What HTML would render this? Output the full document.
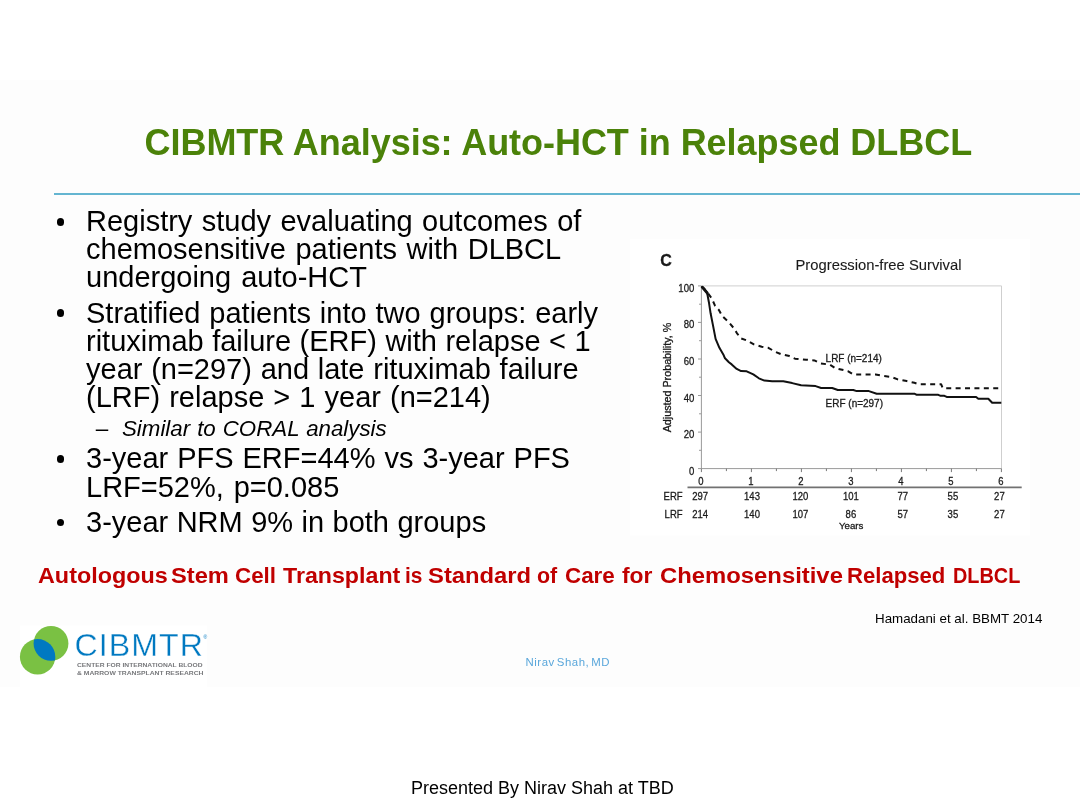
<!DOCTYPE html>
<html lang="en">
<head>
<meta charset="utf-8">
<title>CIBMTR Analysis: Auto-HCT in Relapsed DLBCL</title>
<style>
html,body{margin:0;padding:0;background:#fff;}
body{width:1080px;height:810px;position:relative;overflow:hidden;font-family:"Liberation Sans",sans-serif;color:#000;}
.slide{position:absolute;left:0;top:80px;width:1080px;height:607px;background:#fdfdfd;}
.abs{position:absolute;white-space:nowrap;line-height:1;}
.title{left:144.5px;top:125px;font-size:36px;font-weight:bold;color:#4b8209;letter-spacing:-0.04px;}
.rule{position:absolute;left:54px;top:193px;width:1026px;height:2px;background:#64b5d1;}
.b{font-size:29px;left:86px;word-spacing:1px;}
.dot{position:absolute;left:56.8px;width:7.6px;height:7.6px;border-radius:50%;background:#000;}
.sub{font-size:22.3px;font-style:italic;left:122px;word-spacing:0.8px;}
.dash{font-size:22.5px;left:95.8px;}
.red{position:absolute;left:0;top:565px;font-size:22.5px;font-weight:bold;color:#c00000;line-height:1;white-space:nowrap;}
.red span{position:absolute;top:0;transform-origin:0 0;}
.cite{left:875px;top:612px;font-size:13.35px;}
.name{left:525.5px;top:657px;font-size:11.4px;color:#5aa7db;letter-spacing:0.55px;word-spacing:-1.8px;}
.foot{left:411px;top:779px;font-size:18px;}
</style>
</head>
<body>
<div class="slide"></div>
<div class="abs title">CIBMTR Analysis: Auto-HCT in Relapsed DLBCL</div>
<div class="rule"></div>

<div class="dot" style="top:218.1px"></div>
<div class="abs b" style="top:207px;word-spacing:1.35px">Registry study evaluating outcomes of</div>
<div class="abs b" style="top:235px;word-spacing:1.5px">chemosensitive patients with DLBCL</div>
<div class="abs b" style="top:263px;word-spacing:2px">undergoing auto-HCT</div>
<div class="dot" style="top:309.4px"></div>
<div class="abs b" style="top:299px;word-spacing:0.85px">Stratified patients into two groups: early</div>
<div class="abs b" style="top:327px;word-spacing:0.43px">rituximab failure (ERF) with relapse &lt; 1</div>
<div class="abs b" style="top:355px;word-spacing:0.67px">year (n=297) and late rituximab failure</div>
<div class="abs b" style="top:383px;word-spacing:1px">(LRF) relapse &gt; 1 year (n=214)</div>
<div class="abs dash" style="top:418px">–</div>
<div class="abs sub" style="top:418px">Similar to CORAL analysis</div>
<div class="dot" style="top:455.0px"></div>
<div class="abs b" style="top:444px;word-spacing:0.9px">3-year PFS ERF=44% vs 3-year PFS</div>
<div class="abs b" style="top:473px;word-spacing:1.8px">LRF=52%, p=0.085</div>
<div class="dot" style="top:518.7px"></div>
<div class="abs b" style="top:508px;word-spacing:0.4px">3-year NRM 9% in both groups</div>

<svg class="chart" width="401" height="298" viewBox="630 238 401 298" style="position:absolute;left:630px;top:238px;overflow:visible;filter:blur(0.35px)">
<rect x="630.3" y="239" width="400" height="296.5" fill="#ffffff"/>
<path d="M701.4 285.9 H1001.5 V468.6" fill="none" stroke="#cfcfcf" stroke-width="1"/>
<path d="M701.4 285.9 V468.6 H1001.5" fill="none" stroke="#9a9a9a" stroke-width="1"/>
<path d="M698 468.6H701.4 M699 450.3H701.4 M698 432.1H701.4 M699 413.8H701.4 M698 395.5H701.4 M699 377.2H701.4 M698 359.0H701.4 M699 340.7H701.4 M698 322.4H701.4 M699 304.2H701.4 M698 285.9H701.4" stroke="#9a9a9a" stroke-width="1" fill="none"/>
<path d="M701.4 468.6v3.5 M726.4 468.6v2.5 M751.4 468.6v3.5 M776.4 468.6v2.5 M801.4 468.6v3.5 M826.4 468.6v2.5 M851.4 468.6v3.5 M876.4 468.6v2.5 M901.4 468.6v3.5 M926.4 468.6v2.5 M951.4 468.6v3.5 M976.4 468.6v2.5 M1001.4 468.6v3.5" stroke="#777" stroke-width="1" fill="none"/>
<path d="M687.5 487.4H1021.7" stroke="#727272" stroke-width="1.6" fill="none"/>
<path d="M701.9 286.6 L707.2 292.2 L711.7 298.3 L715 305.6 L718.9 310 L722.2 316.1 L728.3 321.7 L733.9 328.3 L736.7 332.8 L740.6 338.3 L747.2 340.6 L753.9 344.4 L761.7 346.7 L768.3 347.8 L775 351.7 L781.7 354.4 L789.4 356.1 L795 358.7 L806.1 359.7 L814.4 360.4 L820 363.3 L830 364.7 L835.6 368.3 L847.8 371.1 L853.3 374.4 L875.6 374.4 L882.2 375.8 L891.1 376.9 L897.8 379.4 L906.7 381.1 L914.4 382.8 L918.9 384.2 L941.1 384.2 L942.8 388.3 L1001.3 388.3" fill="none" stroke="#111" stroke-width="2" stroke-dasharray="5 4.4" stroke-linejoin="round"/>
<path d="M701.9 286.6 L704.5 289 L707.2 293.3 L708.9 302.2 L710.6 313.3 L712.8 324.4 L715.6 338.9 L719.4 347.8 L723.3 354.4 L725 358.3 L728.9 362.2 L731.7 364.4 L736.7 368.9 L741.1 371.1 L746.7 371.3 L753.3 374.4 L758.9 378.3 L764.4 380.6 L772.2 381.3 L783.3 381.3 L792.2 383.1 L801.1 385.3 L815.6 386.1 L821.1 388 L832.2 388 L837.8 390 L853.3 390 L856.7 391.1 L868.9 391.1 L876.7 393.7 L914.4 393.7 L916.7 394.8 L938.3 394.8 L940.6 395.8 L944.4 395.8 L946.7 396.9 L976.1 396.9 L978.3 398.7 L988.3 398.7 L992.2 402.8 L1001.3 402.8" fill="none" stroke="#111" stroke-width="2" stroke-linejoin="round"/>
<path d="M702.2 287.2 L707.3 293" stroke="#111" stroke-width="2.8" stroke-linecap="round" fill="none"/>
<g font-family="'Liberation Sans',sans-serif" fill="#1a1a1a" stroke="#1a1a1a" stroke-width="0.3">
<text x="660.2" y="265.5" font-size="16" font-weight="bold">C</text>
<text x="795.5" y="269.5" font-size="15" stroke-width="0.1" textLength="166" lengthAdjust="spacingAndGlyphs">Progression-free Survival</text>
<text transform="translate(694.3 291.9) scale(0.84 1)" font-size="11.4" text-anchor="end">100</text>
<text transform="translate(694.3 328.4) scale(0.84 1)" font-size="11.4" text-anchor="end">80</text>
<text transform="translate(694.3 365.0) scale(0.84 1)" font-size="11.4" text-anchor="end">60</text>
<text transform="translate(694.3 401.5) scale(0.84 1)" font-size="11.4" text-anchor="end">40</text>
<text transform="translate(694.3 438.1) scale(0.84 1)" font-size="11.4" text-anchor="end">20</text>
<text transform="translate(694.3 474.6) scale(0.84 1)" font-size="11.4" text-anchor="end">0</text>
<text transform="translate(670.6 377.5) rotate(-90)" font-size="10.3" text-anchor="middle" textLength="109.6" lengthAdjust="spacingAndGlyphs">Adjusted Probability, %</text>
<text transform="translate(700.8 484.6) scale(0.86 1)" font-size="11" text-anchor="middle">0</text>
<text transform="translate(750.8 484.6) scale(0.86 1)" font-size="11" text-anchor="middle">1</text>
<text transform="translate(800.8 484.6) scale(0.86 1)" font-size="11" text-anchor="middle">2</text>
<text transform="translate(850.8 484.6) scale(0.86 1)" font-size="11" text-anchor="middle">3</text>
<text transform="translate(900.8 484.6) scale(0.86 1)" font-size="11" text-anchor="middle">4</text>
<text transform="translate(950.8 484.6) scale(0.86 1)" font-size="11" text-anchor="middle">5</text>
<text transform="translate(1000.8 484.6) scale(0.86 1)" font-size="11" text-anchor="middle">6</text>
<text transform="translate(700.2 500.2) scale(0.85 1)" font-size="11.2" text-anchor="middle">297</text>
<text transform="translate(700.2 517.8) scale(0.85 1)" font-size="11.2" text-anchor="middle">214</text>
<text transform="translate(752.0 500.2) scale(0.85 1)" font-size="11.2" text-anchor="middle">143</text>
<text transform="translate(752.0 517.8) scale(0.85 1)" font-size="11.2" text-anchor="middle">140</text>
<text transform="translate(800.4 500.2) scale(0.85 1)" font-size="11.2" text-anchor="middle">120</text>
<text transform="translate(800.4 517.8) scale(0.85 1)" font-size="11.2" text-anchor="middle">107</text>
<text transform="translate(850.9 500.2) scale(0.85 1)" font-size="11.2" text-anchor="middle">101</text>
<text transform="translate(850.9 517.8) scale(0.85 1)" font-size="11.2" text-anchor="middle">86</text>
<text transform="translate(902.8 500.2) scale(0.85 1)" font-size="11.2" text-anchor="middle">77</text>
<text transform="translate(902.8 517.8) scale(0.85 1)" font-size="11.2" text-anchor="middle">57</text>
<text transform="translate(952.9 500.2) scale(0.85 1)" font-size="11.2" text-anchor="middle">55</text>
<text transform="translate(952.9 517.8) scale(0.85 1)" font-size="11.2" text-anchor="middle">35</text>
<text transform="translate(999.4 500.2) scale(0.85 1)" font-size="11.2" text-anchor="middle">27</text>
<text transform="translate(999.4 517.8) scale(0.85 1)" font-size="11.2" text-anchor="middle">27</text>
<text transform="translate(663.6 500.2) scale(0.85 1)" font-size="11.2">ERF</text>
<text transform="translate(664.6 517.8) scale(0.85 1)" font-size="11.2">LRF</text>
<text x="839" y="528.6" font-size="9.8" textLength="24.4" lengthAdjust="spacingAndGlyphs">Years</text>
<text x="825.6" y="361.7" font-size="10" textLength="56.2" lengthAdjust="spacingAndGlyphs">LRF (n=214)</text>
<text x="825.6" y="406.8" font-size="10.4" textLength="57.4" lengthAdjust="spacingAndGlyphs">ERF (n=297)</text>
</g>
</svg>
<svg class="logo" width="200" height="62" viewBox="18 625 200 62" style="position:absolute;left:18px;top:625px;overflow:visible">
<rect x="20" y="625.4" width="187.2" height="62.1" fill="#ffffff"/>
<circle cx="51" cy="643.4" r="17.4" fill="#7ac143"/>
<circle cx="37.6" cy="656.8" r="17.7" fill="#7ac143"/>
<clipPath id="lc"><circle cx="51" cy="643.4" r="17.4"/></clipPath>
<circle cx="37.6" cy="656.8" r="17.7" fill="#0079c1" clip-path="url(#lc)"/>
<g font-family="'Liberation Sans',sans-serif">
<text x="74.5" y="655.8" font-size="30.5" fill="#0079c1" stroke="#ffffff" stroke-width="0.35" letter-spacing="1" textLength="129.5" lengthAdjust="spacingAndGlyphs">CIBMTR</text>
<text x="203.5" y="638.5" font-size="5" fill="#0079c1">®</text>
<text x="77" y="667.2" font-size="6.1" font-weight="bold" fill="#77787b" textLength="125.6" lengthAdjust="spacingAndGlyphs">CENTER FOR INTERNATIONAL BLOOD</text>
<text x="77" y="674.9" font-size="6.1" font-weight="bold" fill="#77787b" textLength="126.5" lengthAdjust="spacingAndGlyphs">&amp; MARROW TRANSPLANT RESEARCH</text>
</g></svg>
<div class="red"><span style="left:37.5px;transform:scaleX(1.0383)">Autologous</span> <span style="left:170.7px;transform:scaleX(1.0519)">Stem</span> <span style="left:235.26px;transform:scaleX(0.9936)">Cell</span> <span style="left:282.5px;transform:scaleX(1.0307)">Transplant</span> <span style="left:405.32px;transform:scaleX(0.9265)">is</span> <span style="left:428.44px;transform:scaleX(1.0579)">Standard</span> <span style="left:537.05px;transform:scaleX(0.9524)">of</span> <span style="left:564.76px;transform:scaleX(0.9949)">Care</span> <span style="left:622.0px;transform:scaleX(1.0167)">for</span> <span style="left:660.19px;transform:scaleX(1.0599)">Chemosensitive</span> <span style="left:846.52px;transform:scaleX(0.9821)">Relapsed</span> <span style="left:952.87px;transform:scaleX(0.8833)">DLBCL</span></div>
<div class="abs cite">Hamadani et al. BBMT 2014</div>
<div class="abs name">Nirav Shah, MD</div>
<div class="abs foot">Presented By Nirav Shah at TBD</div>
</body>
</html>
